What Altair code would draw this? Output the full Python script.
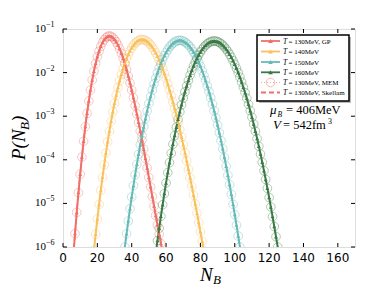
import altair as alt
import pandas as pd

# ---- data (log10 P, one value per integer N_B) ----
series_names = ["T130", "T140", "T150", "T160"]
series_colors = ["#F07068", "#F9C05C", "#66BAB6", "#3A7A45"]
start_N = [6, 18, 36, 54]

logP_130 = [-6.211, -5.693, -5.207, -4.753, -4.330, -3.937, -3.574, -3.239, -2.932, -2.653,
            -2.400, -2.172, -1.970, -1.792, -1.638, -1.507, -1.398, -1.310, -1.244, -1.197,
            -1.169, -1.160, -1.169, -1.195, -1.237, -1.295, -1.368, -1.455, -1.555, -1.669,
            -1.794, -1.931, -2.078, -2.235, -2.401, -2.575, -2.758, -2.947, -3.142, -3.343,
            -3.549, -3.758, -3.971, -4.187, -4.405, -4.623, -4.842, -5.061, -5.279, -5.495,
            -5.708, -5.918, -6.125]
logP_140 = [-6.074, -5.708, -5.357, -5.023, -4.704, -4.402, -4.114, -3.842, -3.585, -3.343,
            -3.115, -2.902, -2.702, -2.517, -2.345, -2.186, -2.041, -1.908, -1.788, -1.681,
            -1.586, -1.503, -1.432, -1.372, -1.324, -1.287, -1.261, -1.245, -1.240, -1.245,
            -1.260, -1.285, -1.319, -1.363, -1.416, -1.477, -1.547, -1.626, -1.713, -1.807,
            -1.910, -2.019, -2.137, -2.261, -2.392, -2.529, -2.673, -2.823, -2.979, -3.140,
            -3.307, -3.479, -3.657, -3.838, -4.025, -4.216, -4.410, -4.609, -4.811, -5.017,
            -5.226, -5.437, -5.652, -5.869, -6.088]
logP_150 = [-6.000, -5.697, -5.406, -5.124, -4.853, -4.593, -4.343, -4.104, -3.874, -3.655,
            -3.446, -3.246, -3.057, -2.878, -2.708, -2.549, -2.399, -2.258, -2.127, -2.006,
            -1.894, -1.791, -1.698, -1.614, -1.539, -1.473, -1.416, -1.368, -1.329, -1.299,
            -1.277, -1.264, -1.260, -1.264, -1.277, -1.298, -1.328, -1.365, -1.411, -1.465,
            -1.527, -1.597, -1.675, -1.761, -1.855, -1.956, -2.065, -2.182, -2.306, -2.437,
            -2.576, -2.722, -2.876, -3.036, -3.204, -3.379, -3.560, -3.749, -3.945, -4.147,
            -4.356, -4.571, -4.793, -5.022, -5.257, -5.498, -5.746, -6.000, -6.260]
logP_160 = [-6.149, -5.854, -5.570, -5.296, -5.031, -4.775, -4.530, -4.294, -4.067, -3.849,
            -3.641, -3.443, -3.253, -3.073, -2.901, -2.739, -2.585, -2.441, -2.305, -2.178,
            -2.059, -1.949, -1.848, -1.755, -1.671, -1.595, -1.527, -1.467, -1.416, -1.373,
            -1.337, -1.310, -1.291, -1.279, -1.275, -1.279, -1.290, -1.309, -1.336, -1.370,
            -1.411, -1.460, -1.516, -1.579, -1.649, -1.727, -1.811, -1.902, -2.000, -2.105,
            -2.217, -2.335, -2.460, -2.591, -2.729, -2.873, -3.024, -3.181, -3.344, -3.513,
            -3.689, -3.870, -4.057, -4.251, -4.450, -4.654, -4.865, -5.081, -5.303, -5.530,
            -5.763, -6.001, -6.244]

x_ticks = [0, 20, 40, 60, 80, 100, 120, 140, 160]
y_decades = [1e-6, 1e-5, 1e-4, 1e-3, 1e-2, 1e-1]
y_exps = ["\u22126", "\u22125", "\u22124", "\u22123", "\u22122", "\u22121"]

legend_labels = ["= 130MeV, GP", "= 140MeV", "= 150MeV", "= 160MeV", "= 130MeV, MEM", "= 130MeV, Skellam"]

rows = []
for name, s0, vals in zip(series_names, start_N, [logP_130, logP_140, logP_150, logP_160]):
    for i, v in enumerate(vals):
        rows.append({"series": name, "N": s0 + i, "P": 10 ** v})
df = pd.DataFrame(rows)

W, H = 292, 218
SERIF = "Liberation Serif"

x_scale = alt.Scale(domain=[0, 170], nice=False, zero=False)
y_scale = alt.Scale(type="log", domain=[1e-6, 1e-1], nice=False)
c_scale = alt.Scale(domain=series_names, range=series_colors)

Xn = alt.X("N:Q", scale=x_scale, axis=None)
Y = alt.Y("P:Q", scale=y_scale, axis=None)
C = alt.Color("series:N", scale=c_scale, legend=None)

base = alt.Chart(df)
circles = base.mark_point(shape="circle", filled=False, size=75, strokeWidth=1, opacity=0.4, clip=True).encode(
    x=Xn, y=Y, color=C)
lines = base.mark_line(strokeWidth=2, clip=True).encode(x=Xn, y=Y, color=C, detail="series:N")
tris = base.mark_point(shape="triangle-up", filled=True, size=16, opacity=1, clip=True).encode(
    x=Xn, y=Y, color=C)
skellam = base.transform_filter(alt.datum.series == "T130").mark_line(
    strokeWidth=1.5, strokeDash=[5, 3], color=series_colors[0], clip=True).encode(x=Xn, y=Y)

# inward ticks and tick labels
tdf = pd.DataFrame({"t": x_ticks})
xt_bot = alt.Chart(tdf).mark_rule(color="black", strokeWidth=1).encode(
    x=alt.X("t:Q", scale=x_scale, axis=None), y=alt.value(H), y2=alt.value(H - 4))
xt_top = alt.Chart(tdf).mark_rule(color="black", strokeWidth=1).encode(
    x=alt.X("t:Q", scale=x_scale, axis=None), y=alt.value(0), y2=alt.value(4))
xlab = alt.Chart(tdf).mark_text(align="center", baseline="alphabetic", font="DejaVu Sans", fontSize=12,
                                color="black").encode(
    x=alt.X("t:Q", scale=x_scale, axis=None), y=alt.value(H + 14.5), text="t:Q")
ddf = pd.DataFrame({"v": y_decades, "e": y_exps})
yt_l = alt.Chart(ddf).mark_rule(color="black", strokeWidth=1).encode(
    y=alt.Y("v:Q", scale=y_scale, axis=None), x=alt.value(0), x2=alt.value(4))
yt_r = alt.Chart(ddf).mark_rule(color="black", strokeWidth=1).encode(
    y=alt.Y("v:Q", scale=y_scale, axis=None), x=alt.value(W - 4), x2=alt.value(W))
ylab10 = alt.Chart(ddf).mark_text(align="right", baseline="middle", font=SERIF, fontSize=11, color="black").encode(
    y=alt.Y("v:Q", scale=y_scale, axis=None), x=alt.value(-17), text=alt.value("10"))
ylabexp = alt.Chart(ddf).mark_text(align="left", baseline="middle", font=SERIF, fontSize=8, dy=-4, color="black").encode(
    y=alt.Y("v:Q", scale=y_scale, axis=None), x=alt.value(-17), text="e:N")

one = alt.Data(values=[{}])


def txt(x, y, s, size, italic=False, align="left", baseline="alphabetic", angle=None, font=SERIF):
    kw = dict(align=align, baseline=baseline, font=font, fontSize=size, text=s, color="black")
    if italic:
        kw["fontStyle"] = "italic"
    if angle is not None:
        kw["angle"] = angle
    return alt.Chart(one).mark_text(**kw).encode(x=alt.value(x), y=alt.value(y))


def rule(x1, x2, y, color, width=1.8, dash=None, opacity=1.0):
    kw = dict(color=color, strokeWidth=width, opacity=opacity)
    if dash:
        kw["strokeDash"] = dash
    return alt.Chart(one).mark_rule(**kw).encode(x=alt.value(x1), x2=alt.value(x2), y=alt.value(y))


def pt(x, y, shape, color, size, filled=True, opacity=1.0):
    return alt.Chart(one).mark_point(shape=shape, filled=filled, size=size, color=color, opacity=opacity,
                                     strokeWidth=1).encode(x=alt.value(x), y=alt.value(y))


deco = []
# axis titles
deco += [txt(-38, 131, "P(N", 19, italic=True, angle=270),
         txt(-34, 101, "B", 13, italic=True, angle=270),
         txt(-38, 93, ")", 19, italic=True, angle=270)]
deco += [txt(137, 252, "N", 19, italic=True), txt(150, 255, "B", 13, italic=True)]

# legend
lx0, lx1, ly0, ly1 = 194, 286, 6, 72
deco.append(alt.Chart(one).mark_rect(fill="#bbbbbb").encode(
    x=alt.value(lx0 + 2), x2=alt.value(lx1 + 2), y=alt.value(ly0 + 2), y2=alt.value(ly1 + 2)))
deco.append(alt.Chart(one).mark_rect(fill="white", stroke="black", strokeWidth=1.5).encode(
    x=alt.value(lx0), x2=alt.value(lx1), y=alt.value(ly0), y2=alt.value(ly1)))
row_y = [12, 22.5, 33, 43.3, 53.5, 63.5]
for i in range(4):
    deco.append(rule(198, 217, row_y[i], series_colors[i]))
    deco.append(pt(207.5, row_y[i], "triangle-up", series_colors[i], 22))
deco.append(rule(198, 217, row_y[4], series_colors[0], width=1, dash=[1, 2], opacity=0.6))
deco.append(pt(207.5, row_y[4], "circle", series_colors[0], 75, filled=False, opacity=0.5))
deco.append(rule(198, 217, row_y[5], series_colors[0], width=2, dash=[5, 3]))
for i, lab in enumerate(legend_labels):
    deco.append(txt(220, row_y[i] + 2.5, "T", 7.5, italic=True))
    deco.append(txt(225.5, row_y[i] + 2.5, lab, 7))

# annotation
deco += [txt(207, 85, "\u03bc", 13, italic=True), txt(214.5, 87.5, "B", 7.5, italic=True),
         txt(223, 85, "= 406MeV", 12.5)]
deco += [txt(210, 100, "V", 13, italic=True), txt(220, 100, "= 542fm", 12.5), txt(265, 95, "3", 8)]

chart = alt.layer(circles, lines, skellam, tris, xt_bot, xt_top, xlab, yt_l, yt_r, ylab10, ylabexp, *deco).properties(
    width=W, height=H,
    autosize=alt.AutoSizeParams(type="none"),
    padding={"left": 55, "top": 21, "right": 10, "bottom": 40},
).configure_view(stroke="#111111", strokeWidth=1.6).configure(background="white")

chart.save("out.html", embed_options={"renderer": "svg", "actions": False})
